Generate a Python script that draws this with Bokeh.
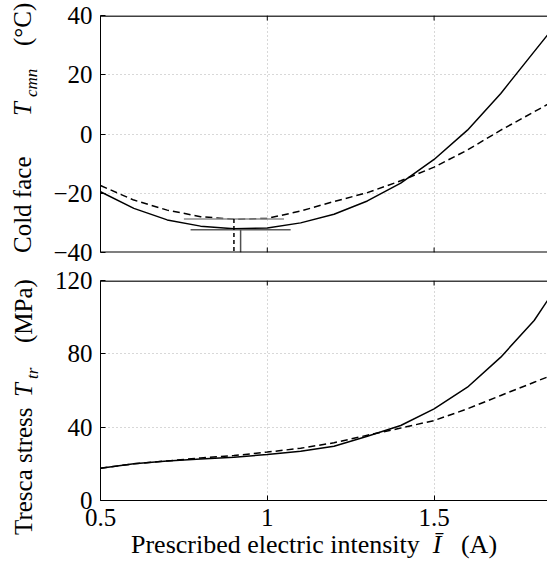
from bokeh.plotting import figure
from bokeh.layouts import column, row
from bokeh.models import Range1d, FixedTicker, Div
from bokeh.embed import file_html
from bokeh.resources import INLINE

# ---------------- data ----------------
current = [0.5, 0.6, 0.7, 0.8, 0.9, 1.0, 1.1, 1.2, 1.3, 1.4, 1.5, 1.6, 1.7, 1.8, 1.85]
temp_solid = [-19.5, -25.1, -29.0, -31.1, -32.0, -31.7, -30.0, -27.1, -22.6, -16.6, -8.6, 1.3, 13.7, 27.8, 34.8]
temp_dashed = [-17.4, -22.3, -25.7, -27.9, -28.8, -28.5, -26.0, -22.8, -19.8, -15.8, -11.2, -5.4, 1.3, 7.5, 10.6]
stress_solid = [17.6, 20.0, 21.5, 22.7, 23.6, 25.1, 26.9, 29.6, 35.0, 40.9, 50.0, 61.8, 78.2, 98.2, 111.8]
stress_dashed = [17.6, 20.0, 21.6, 23.2, 24.5, 26.4, 28.5, 31.5, 35.6, 39.5, 43.6, 50.0, 57.3, 64.5, 68.1]

# minima markers (current at minimum, temperature at minimum)
min_solid_I, min_solid_T = 0.92, -32.3
min_dashed_I, min_dashed_T = 0.90, -28.7
bar_half = 0.15

x_ticks = [0.5, 1.0, 1.5]
x_tick_labels = {0.5: "0.5", 1: "1", 1.5: "1.5"}
top_ticks = [-40, -20, 0, 20, 40]
top_tick_labels = {-40: "\u221240", -20: "\u221220", 0: "0", 20: "20", 40: "40"}
bot_ticks = [0, 40, 80, 120]

top_label_parts = ["Cold face", "T", "cmn", "(\u00b0C)"]
bot_label_parts = ["Tresca stress", "T", "tr", "(MPa)"]
x_label_html = "Prescribed electric intensity&nbsp;&nbsp;<i>\u012a</i>&nbsp;&nbsp;&nbsp;(A)"

X_START, X_END = 0.5, 1.84
TOP_Y = (-40, 40)
BOT_Y = (0, 120)

FONT = "Liberation Serif"
FS = "25px"
GRID_COLOR = "#b0b0b0"
TICK_PX = 5


def base_style(p, yticks, ylabels=None):
    p.yaxis.ticker = FixedTicker(ticks=yticks)
    p.xgrid.ticker = FixedTicker(ticks=x_ticks)
    p.ygrid.ticker = FixedTicker(ticks=yticks)
    for ax in p.axis:
        ax.axis_line_color = "black"
        ax.axis_line_width = 1
        ax.major_tick_in = TICK_PX
        ax.major_tick_out = 0
        ax.minor_tick_line_color = None
        ax.major_tick_line_color = "black"
        ax.major_label_text_font = FONT
        ax.major_label_text_font_size = FS
        ax.major_label_text_color = "black"
    p.yaxis.major_label_standoff = 8
    if ylabels:
        p.yaxis.major_label_overrides = ylabels
    p.xgrid.grid_line_color = GRID_COLOR
    p.ygrid.grid_line_color = GRID_COLOR
    p.xgrid.grid_line_dash = "1 3"
    p.ygrid.grid_line_dash = "1 3"
    p.outline_line_color = None
    p.background_fill_color = "white"
    p.border_fill_color = "white"


def edge(p, y_edge, y_in, frame_h, y_span, color="black", width=2):
    """frame edge line at y_edge plus inward tick marks (ticks from x_ticks)."""
    p.segment(x0=[X_START], y0=[y_edge], x1=[X_END], y1=[y_edge], line_color=color, line_width=width)
    d = TICK_PX * y_span / frame_h
    yt = y_edge + d if y_in else y_edge - d
    p.segment(x0=x_ticks, y0=[y_edge] * len(x_ticks), x1=x_ticks, y1=[yt] * len(x_ticks),
              line_color="black", line_width=1)


# ---------------- top figure ----------------
p1 = figure(width=503, height=266, output_backend="svg", toolbar_location=None,
            x_range=Range1d(X_START, X_END), y_range=Range1d(*TOP_Y),
            min_border_left=56, min_border_right=0, min_border_top=15, min_border_bottom=14)
base_style(p1, top_ticks, top_tick_labels)
p1.xaxis.visible = False

p1.line(current, temp_dashed, line_color="black", line_width=1.5, line_dash="7 4")
p1.line(current, temp_solid, line_color="black", line_width=1.5)

p1.segment(x0=[min_dashed_I - bar_half], y0=[min_dashed_T], x1=[min_dashed_I + bar_half], y1=[min_dashed_T],
           line_color="#8c8c8c", line_width=1.5)
p1.segment(x0=[min_solid_I - bar_half], y0=[min_solid_T], x1=[min_solid_I + bar_half], y1=[min_solid_T],
           line_color="#5a5a5a", line_width=1.5)
p1.segment(x0=[min_dashed_I], y0=[min_dashed_T], x1=[min_dashed_I], y1=[TOP_Y[0]],
           line_color="black", line_width=1.5, line_dash="4 3")
p1.segment(x0=[min_solid_I], y0=[min_solid_T], x1=[min_solid_I], y1=[TOP_Y[0]],
           line_color="#505050", line_width=1.5)

edge(p1, TOP_Y[1], False, 237, TOP_Y[1] - TOP_Y[0], "#404040", 3)
edge(p1, TOP_Y[0], True, 237, TOP_Y[1] - TOP_Y[0])

# ---------------- bottom figure ----------------
p2 = figure(width=503, height=269, output_backend="svg", toolbar_location=None,
            x_range=Range1d(X_START, X_END), y_range=Range1d(*BOT_Y),
            min_border_left=56, min_border_right=0, min_border_top=14, min_border_bottom=35)
base_style(p2, bot_ticks, None)
p2.xaxis.ticker = FixedTicker(ticks=x_ticks)
p2.xaxis.major_label_overrides = x_tick_labels
p2.xaxis.major_label_standoff = 8

p2.line(current, stress_dashed, line_color="black", line_width=1.5, line_dash="7 4")
p2.line(current, stress_solid, line_color="black", line_width=1.5)

edge(p2, BOT_Y[1], False, 220, BOT_Y[1] - BOT_Y[0], "#404040", 3)


# ---------------- labels (HTML text) ----------------
def vpiece(text, left, start, size, italic):
    st = "italic" if italic else "normal"
    return (f'<div style="position:absolute; left:{left}px; top:{start}px; '
            f'transform-origin:0 0; transform:rotate(-90deg); white-space:nowrap; '
            f"font-family:'{FONT}'; font-size:{size}px; line-height:{size}px; "
            f'font-style:{st}; color:#000;">{text}</div>')


def label_strip(height, parts, lefts, starts, italics, sizes):
    inner = "".join(vpiece(t, l, s, z, i) for t, l, s, i, z in zip(parts, lefts, starts, italics, sizes))
    html = f'<div style="position:relative; width:44px; height:{height}px;">{inner}</div>'
    return Div(text=html, width=44, height=height, margin=(0, 0, 0, 0))


labA = label_strip(266, top_label_parts, [10, 10, 23, 10], [253, 116, 97, 46],
                   [False, True, True, False], [25, 25, 17, 25])
labB = label_strip(301, bot_label_parts, [11, 11, 24, 11], [269, 131, 113, 77],
                   [False, True, True, False], [25, 25, 17, 25])

xlab = Div(text=('<div style="position:relative; width:503px; height:32px;">'
                 '<div style="position:absolute; left:87px; top:0px; white-space:nowrap; '
                 f"font-family:'{FONT}'; font-size:26px; line-height:20px; color:#000;\">"
                 f'{x_label_html}</div></div>'),
           width=503, height=32, margin=(0, 0, 0, 0))

layout = column(row(labA, p1, spacing=0),
                row(labB, column(p2, xlab, spacing=0), spacing=0),
                spacing=0)
open("out.html", "w").write(file_html(layout, INLINE))
